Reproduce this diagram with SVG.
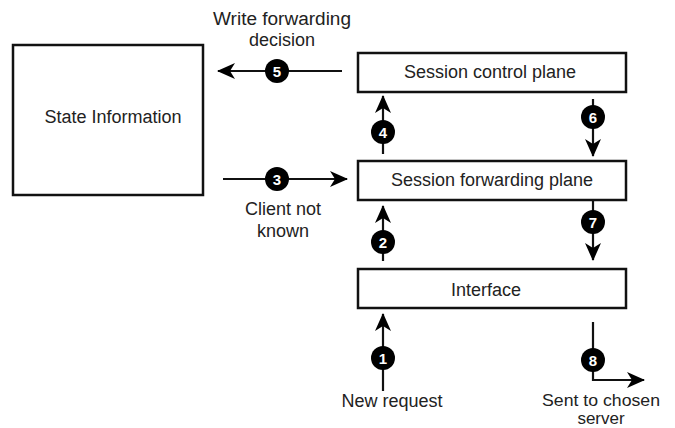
<svg xmlns="http://www.w3.org/2000/svg" width="675" height="428" viewBox="0 0 675 428">
  <style>
    .box { fill: #fff; stroke: #111; stroke-width: 2.5; }
    .lbl { font-family: "Liberation Sans", Arial, sans-serif; font-size: 18px; fill: #222; text-anchor: middle; }
    .sm { font-size: 17px; }
    .wire { stroke: #111; stroke-width: 2.2; fill: none; }
    .dot { fill: #000; }
    .num { font-family: "Liberation Sans", Arial, sans-serif; font-size: 15px; font-weight: bold; fill: #fff; text-anchor: middle; }
  </style>
  <defs>
    <marker id="ah" viewBox="0 0 18 16" refX="17" refY="8" markerWidth="18" markerHeight="16" orient="auto" markerUnits="userSpaceOnUse">
      <path d="M0,0 L18,8 L0,16 L5,8 Z" fill="#000"/>
    </marker>
  </defs>
  <rect width="675" height="428" fill="#fff"/>

  <g id="state-information">
    <rect class="box" x="13" y="45" width="190" height="150"/>
    <text class="lbl" x="113" y="123">State Information</text>
  </g>
  <g id="session-control-plane">
    <rect class="box" x="358" y="53" width="268" height="39"/>
    <text class="lbl" x="490" y="78">Session control plane</text>
  </g>
  <g id="session-forwarding-plane">
    <rect class="box" x="358" y="161" width="268" height="39"/>
    <text class="lbl" x="492" y="186">Session forwarding plane</text>
  </g>
  <g id="interface">
    <rect class="box" x="358" y="269" width="268" height="39"/>
    <text class="lbl" x="486" y="296">Interface</text>
  </g>

  <g id="connectors">
    <!-- 5: control plane writes decision to state -->
    <line class="wire" x1="342" y1="71" x2="218" y2="71" marker-end="url(#ah)"/>
    <!-- 3: client lookup -->
    <line class="wire" x1="223" y1="179" x2="347" y2="179" marker-end="url(#ah)"/>
    <!-- 4: forwarding to control -->
    <line class="wire" x1="383" y1="154" x2="383" y2="96" marker-end="url(#ah)"/>
    <!-- 6: control to forwarding -->
    <line class="wire" x1="593" y1="99" x2="593" y2="156" marker-end="url(#ah)"/>
    <!-- 2: interface to forwarding -->
    <line class="wire" x1="383" y1="261" x2="383" y2="206" marker-end="url(#ah)"/>
    <!-- 7: forwarding to interface -->
    <line class="wire" x1="593" y1="200" x2="593" y2="260" marker-end="url(#ah)"/>
    <!-- 1: new request in -->
    <line class="wire" x1="383" y1="391" x2="383" y2="314" marker-end="url(#ah)"/>
    <!-- 8: out to server -->
    <path class="wire" d="M593,322 V380 H644" marker-end="url(#ah)"/>

    <g id="step-markers">
      <circle class="dot" cx="383" cy="358" r="12"/><text class="num" x="383" y="363.5">1</text>
      <circle class="dot" cx="383" cy="242" r="12"/><text class="num" x="383" y="247.5">2</text>
      <circle class="dot" cx="277" cy="179" r="12"/><text class="num" x="277" y="184.5">3</text>
      <circle class="dot" cx="383" cy="132" r="12"/><text class="num" x="383" y="137.5">4</text>
      <circle class="dot" cx="277" cy="71" r="12"/><text class="num" x="277" y="76.5">5</text>
      <circle class="dot" cx="593" cy="117" r="12"/><text class="num" x="593" y="122.5">6</text>
      <circle class="dot" cx="593" cy="222" r="12"/><text class="num" x="593" y="227.5">7</text>
      <circle class="dot" cx="593" cy="360" r="12"/><text class="num" x="593" y="365.5">8</text>
    </g>

    <g id="connector-labels">
      <text class="lbl" x="282" y="25" textLength="138" lengthAdjust="spacingAndGlyphs">Write forwarding</text>
      <text class="lbl" x="282" y="46">decision</text>
      <text class="lbl" x="283" y="215">Client not</text>
      <text class="lbl" x="283" y="237">known</text>
      <text class="lbl" x="392" y="407">New request</text>
      <text class="lbl sm" x="601" y="406" textLength="118" lengthAdjust="spacingAndGlyphs">Sent to chosen</text>
      <text class="lbl sm" x="601" y="424">server</text>
    </g>
  </g>
</svg>
